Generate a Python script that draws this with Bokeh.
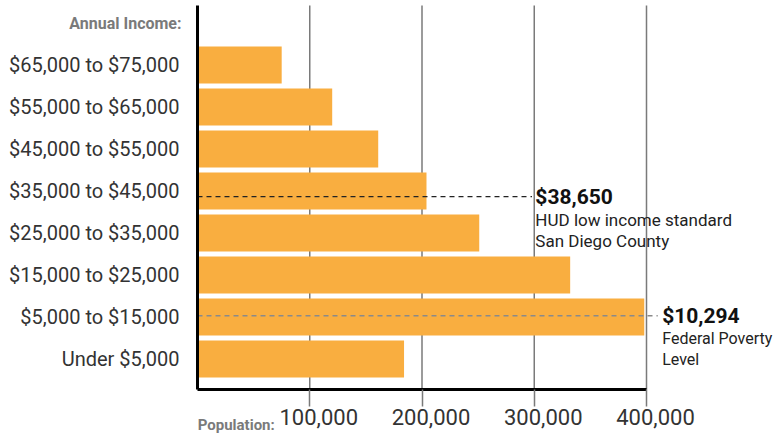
from bokeh.plotting import figure
from bokeh.models import ColumnDataSource, FixedTicker, Range1d, LinearAxis
from bokeh.core.properties import value
from bokeh.embed import file_html
from bokeh.resources import INLINE

# ---- data ----
categories = ["Under $5,000", "$5,000 to $15,000", "$15,000 to $25,000",
              "$25,000 to $35,000", "$35,000 to $45,000", "$45,000 to $55,000",
              "$55,000 to $65,000", "$65,000 to $75,000"]
bin_low = [0, 5000, 15000, 25000, 35000, 45000, 55000, 65000]
bin_high = [5000, 15000, 25000, 35000, 45000, 55000, 65000, 75000]
population = [184000, 398000, 332000, 251000, 204000, 161000, 120000, 75000]
x_ticks = [100000, 200000, 300000, 400000]
thresholds = [38650, 10294]
threshold_titles = ["$38,650", "$10,294"]
threshold_notes = [["HUD low income standard", "San Diego County"],
                   ["Federal Poverty", "Level"]]
y_title = "Annual Income:"
x_title = "Population:"

# ---- layout / style constants ----
FONT = "Roboto"
BAR = "#F9AE40"
GRID = "#7a7a7a"
W, H = 775, 434
X0_PX = 197.0            # pixel of x = 0
PX_PER_UNIT_X = 1.1225 / 1000
CAT_PX = 42.0            # pixels between category centres
CAT0_PX = 358.5          # pixel of first category centre
AXIS_PX = 389.0          # pixel of the bottom axis line
TOP_PX = 5.0             # pixel where the left line starts
LABEL_SHIFT_PX = 9       # tick labels sit a little right of their ticks

X_START = -X0_PX / PX_PER_UNIT_X
X_END = (W - X0_PX) / PX_PER_UNIT_X
Y_END = CAT0_PX / CAT_PX
Y_START = -(H - CAT0_PX) / CAT_PX
Y_AXIS = -(AXIS_PX - CAT0_PX) / CAT_PX
Y_TOP = (CAT0_PX - TOP_PX) / CAT_PX
LABEL_SHIFT = int(round(LABEL_SHIFT_PX / PX_PER_UNIT_X))

LINE_END = [298000, 410000]
TEXT_X = [301000, 414000]
LINE_COLORS = ["#222222", "#8a8a8a"]
NOTE_SIZES = ["17px", "16px"]


def income_to_y(v):
    for i, (lo, hi) in enumerate(zip(bin_low, bin_high)):
        if lo <= v < hi:
            return i - 0.5 + (v - lo) / (hi - lo)
    return len(bin_low) - 0.5


p = figure(width=W, height=H, output_backend="svg", toolbar_location=None,
           x_range=Range1d(X_START, X_END), y_range=Range1d(Y_START, Y_END),
           min_border_left=0, min_border_right=0, min_border_top=0,
           min_border_bottom=0)
p.outline_line_color = None
p.background_fill_color = "white"
p.xgrid.grid_line_color = None
p.ygrid.grid_line_color = None

# vertical grid lines (beneath the bars)
p.segment(x0=x_ticks, y0=[Y_AXIS] * len(x_ticks), x1=x_ticks,
          y1=[Y_TOP] * len(x_ticks), line_color=GRID, line_width=1.5)

src = ColumnDataSource(dict(y=list(range(len(categories))), right=population))
p.hbar(y="y", left=0, right="right", height=0.88, source=src,
       fill_color=BAR, line_color=None)

# threshold lines and notes
for i, t in enumerate(thresholds):
    ty = income_to_y(t)
    p.segment(x0=[0], y0=[ty], x1=[LINE_END[i]], y1=[ty],
              line_color=LINE_COLORS[i], line_width=1.3, line_dash="5 4")
    p.text(x=[TEXT_X[i]], y=[ty], text=[threshold_titles[i]],
           text_font=value(FONT), text_font_size="21px", text_font_style="bold",
           text_color="#111111", text_baseline="middle", text_align="left")
    for k, note in enumerate(threshold_notes[i]):
        p.text(x=[TEXT_X[i]], y=[ty], y_offset=23 + 21 * k, text=[note],
               text_font=value(FONT), text_font_size=NOTE_SIZES[i],
               text_color="#222222", text_baseline="middle", text_align="left")

# x axis line and tick marks, fixed at the bottom line
xa = p.xaxis[0]
xa.fixed_location = Y_AXIS
xa.ticker = FixedTicker(ticks=x_ticks)
xa.bounds = (0, x_ticks[-1])
xa.axis_line_color = "black"
xa.axis_line_width = 3
xa.major_tick_in = 0
xa.major_tick_out = 17
xa.major_tick_line_color = GRID
xa.major_tick_line_width = 1.5
xa.minor_tick_line_color = None
xa.major_label_overrides = {t: "" for t in x_ticks}

# x tick labels (second axis, labels only)
label_ticks = [t + LABEL_SHIFT for t in x_ticks]
xl = LinearAxis(fixed_location=Y_AXIS, ticker=FixedTicker(ticks=label_ticks),
                major_label_overrides={lt: f"{t:,}" for lt, t in zip(label_ticks, x_ticks)},
                axis_line_color=None, major_tick_in=0, major_tick_out=17,
                major_tick_line_color=None, minor_tick_line_color=None,
                major_label_text_font=FONT, major_label_text_font_size="22px",
                major_label_text_color="#333333", major_label_standoff=2)
p.add_layout(xl, "below")

# y axis, fixed at x = 0
ya = p.yaxis[0]
ya.fixed_location = 0
ya.bounds = (Y_AXIS, Y_TOP)
ya.ticker = FixedTicker(ticks=list(range(len(categories))))
ya.major_label_overrides = {i: c for i, c in enumerate(categories)}
ya.axis_line_color = "black"
ya.axis_line_width = 3
ya.major_tick_line_color = None
ya.minor_tick_line_color = None
ya.major_label_text_font = FONT
ya.major_label_text_font_size = "20px"
ya.major_label_text_color = "#333333"
ya.major_label_standoff = 12

# axis titles
p.text(x=[0], y=[len(categories)], x_offset=-16, text=[y_title],
       text_font=value(FONT), text_font_size="16px", text_font_style="bold",
       text_color="#7a7a7a", text_align="right", text_baseline="middle")
p.text(x=[x_ticks[0]], y=[Y_AXIS], x_offset=-35, y_offset=35, text=[x_title],
       text_font=value(FONT), text_font_size="15px", text_font_style="bold",
       text_color="#7a7a7a", text_align="right", text_baseline="alphabetic")

open("out.html", "w").write(file_html(p, INLINE))
